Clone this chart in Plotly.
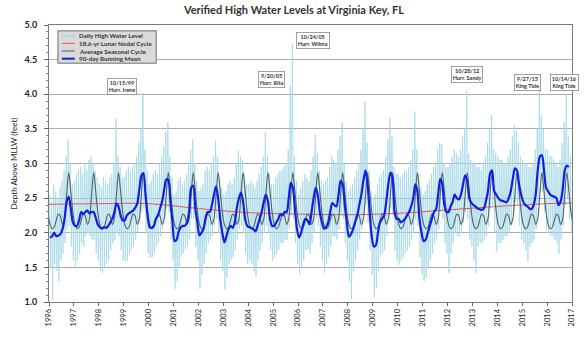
import plotly.graph_objects as go

# ---------------- DATA ----------------
years = list(range(1996, 2017))
tick_years = list(range(1996, 2018))

# 90-day running mean, sampled monthly (Jan..Dec) for each year (feet)
running_mean = [
    [1.93, 1.95, 2.00, 1.95, 1.96, 1.98, 2.05, 2.20, 2.45, 2.52, 2.35, 2.15],  # 1996
    [2.10, 2.10, 2.18, 2.30, 2.27, 2.30, 2.32, 2.28, 2.30, 2.30, 2.22, 2.12],  # 1997
    [2.08, 2.06, 2.08, 2.07, 2.10, 2.15, 2.20, 2.30, 2.42, 2.38, 2.25, 2.18],  # 1998
    [2.18, 2.25, 2.28, 2.30, 2.32, 2.36, 2.42, 2.62, 2.82, 2.86, 2.55, 2.25],  # 1999
    [2.08, 2.07, 2.10, 2.20, 2.25, 2.35, 2.45, 2.62, 2.77, 2.76, 2.45, 2.15],  # 2000
    [1.88, 1.90, 2.02, 2.08, 2.10, 2.10, 2.15, 2.30, 2.65, 2.68, 2.35, 2.15],  # 2001
    [1.96, 2.00, 2.06, 2.22, 2.30, 2.30, 2.40, 2.55, 2.67, 2.50, 2.20, 2.00],  # 2002
    [1.86, 1.95, 2.05, 2.10, 2.07, 2.15, 2.36, 2.50, 2.58, 2.45, 2.20, 2.10],  # 2003
    [2.08, 2.07, 2.05, 2.02, 2.10, 2.20, 2.30, 2.45, 2.55, 2.45, 2.20, 2.10],  # 2004
    [2.10, 2.15, 2.20, 2.27, 2.25, 2.30, 2.30, 2.50, 2.72, 2.65, 2.35, 2.05],  # 2005
    [1.93, 2.00, 2.12, 2.20, 2.18, 2.12, 2.30, 2.50, 2.65, 2.55, 2.30, 2.15],  # 2006
    [2.06, 2.08, 2.15, 2.30, 2.43, 2.40, 2.38, 2.55, 2.75, 2.70, 2.40, 2.15],  # 2007
    [1.94, 1.98, 2.05, 2.15, 2.25, 2.40, 2.55, 2.75, 2.90, 2.70, 2.30, 1.95],  # 2008
    [1.80, 1.82, 2.00, 2.15, 2.20, 2.25, 2.45, 2.70, 2.87, 2.80, 2.30, 2.20],  # 2009
    [2.20, 2.15, 2.17, 2.20, 2.25, 2.30, 2.38, 2.50, 2.70, 2.60, 2.20, 2.00],  # 2010
    [1.88, 1.90, 2.00, 2.10, 2.20, 2.30, 2.34, 2.55, 2.78, 2.70, 2.40, 2.30],  # 2011
    [2.30, 2.38, 2.45, 2.55, 2.50, 2.48, 2.55, 2.70, 2.83, 2.75, 2.50, 2.43],  # 2012
    [2.40, 2.38, 2.35, 2.34, 2.33, 2.35, 2.45, 2.60, 2.85, 2.90, 2.60, 2.55],  # 2013
    [2.50, 2.47, 2.46, 2.45, 2.44, 2.50, 2.60, 2.78, 2.93, 2.90, 2.70, 2.55],  # 2014
    [2.45, 2.40, 2.38, 2.35, 2.34, 2.40, 2.55, 2.90, 3.10, 3.12, 2.90, 2.65],  # 2015
    [2.60, 2.55, 2.53, 2.52, 2.50, 2.40, 2.45, 2.62, 2.90, 2.97, 2.95],        # 2016 (ends Nov)
]

# Daily high water level: highest and lowest daily value in each month (feet)
daily_max = [
    [2.55, 2.45, 2.70, 2.60, 2.50, 2.65, 2.75, 2.90, 3.10, 3.35, 3.00, 2.70],  # 1996
    [2.75, 2.85, 2.90, 2.95, 2.85, 3.00, 2.90, 3.05, 3.10, 3.00, 2.90, 2.80],  # 1997
    [2.70, 2.65, 2.80, 2.75, 2.70, 2.80, 2.85, 3.00, 3.65, 3.10, 2.95, 2.80],  # 1998
    [2.80, 2.90, 2.95, 2.90, 2.95, 3.00, 3.10, 3.30, 3.50, 4.02, 3.20, 2.90],  # 1999
    [2.70, 2.75, 2.85, 2.90, 2.85, 3.00, 3.10, 3.25, 3.45, 3.60, 3.10, 2.80],  # 2000
    [2.55, 2.60, 2.75, 2.80, 2.70, 2.75, 2.85, 3.00, 3.20, 3.35, 3.00, 2.75],  # 2001
    [2.60, 2.65, 2.70, 2.90, 2.95, 2.90, 3.00, 3.10, 3.33, 3.10, 2.80, 2.65],  # 2002
    [2.55, 2.60, 2.70, 2.75, 2.70, 2.80, 3.00, 3.19, 3.10, 3.05, 2.85, 2.70],  # 2003
    [2.70, 2.75, 2.70, 2.65, 2.75, 2.85, 2.95, 3.10, 3.45, 3.10, 2.85, 2.70],  # 2004
    [2.70, 2.80, 2.85, 2.90, 2.90, 2.95, 3.00, 3.20, 4.12, 4.72, 3.10, 2.75],  # 2005
    [2.55, 2.65, 2.75, 2.85, 2.80, 2.75, 2.90, 3.10, 3.42, 3.15, 2.90, 2.75],  # 2006
    [2.70, 2.75, 2.80, 2.95, 3.10, 3.05, 3.00, 3.20, 3.40, 3.59, 3.00, 2.75],  # 2007
    [2.60, 2.65, 2.70, 2.80, 2.90, 3.00, 3.20, 3.50, 3.90, 3.30, 2.90, 2.60],  # 2008
    [2.50, 2.55, 2.70, 2.80, 2.85, 2.90, 3.10, 3.35, 3.66, 3.40, 2.95, 2.85],  # 2009
    [2.85, 2.80, 2.85, 2.90, 2.90, 2.95, 3.05, 3.20, 3.75, 3.20, 2.85, 2.65],  # 2010
    [2.55, 2.60, 2.70, 2.75, 2.85, 2.95, 3.00, 3.20, 3.30, 3.28, 3.00, 2.95],  # 2011
    [2.95, 3.00, 3.10, 3.20, 3.15, 3.10, 3.20, 3.40, 3.50, 4.05, 3.15, 3.05],  # 2012
    [3.00, 3.00, 2.95, 2.95, 2.90, 3.00, 3.10, 3.30, 3.50, 3.70, 3.20, 3.15],  # 2013
    [3.10, 3.05, 3.05, 3.00, 3.00, 3.10, 3.20, 3.40, 3.55, 3.47, 3.30, 3.10],  # 2014
    [3.05, 3.00, 3.00, 2.95, 2.95, 3.00, 3.20, 3.50, 4.05, 3.70, 3.50, 3.20],  # 2015
    [3.20, 3.10, 3.10, 3.05, 3.00, 2.95, 3.05, 3.30, 3.60, 4.00, 3.40, 3.10],  # 2016
]
daily_min = [
    [1.50, 1.03, 1.55, 1.45, 1.30, 1.60, 1.70, 1.85, 2.05, 2.10, 1.80, 1.60],  # 1996
    [1.52, 1.60, 1.70, 1.85, 1.80, 1.95, 2.00, 1.95, 1.90, 1.90, 1.70, 1.60],  # 1997
    [1.45, 1.42, 1.50, 1.55, 1.60, 1.75, 1.85, 1.90, 2.00, 1.95, 1.75, 1.60],  # 1998
    [1.60, 1.59, 1.70, 1.75, 1.80, 1.90, 2.00, 2.15, 2.30, 2.35, 2.00, 1.70],  # 1999
    [1.64, 1.65, 1.70, 1.80, 1.85, 1.95, 2.05, 2.20, 2.35, 2.30, 1.90, 1.60],  # 2000
    [1.19, 1.30, 1.50, 1.65, 1.70, 1.75, 1.80, 1.90, 2.20, 2.20, 1.80, 1.60],  # 2001
    [1.19, 1.40, 1.55, 1.70, 1.85, 1.90, 1.95, 2.10, 2.20, 2.00, 1.60, 1.45],  # 2002
    [1.18, 1.35, 1.55, 1.60, 1.65, 1.75, 1.90, 2.05, 2.10, 2.00, 1.70, 1.55],  # 2003
    [1.60, 1.55, 1.45, 1.37, 1.60, 1.75, 1.85, 2.00, 2.10, 2.00, 1.75, 1.60],  # 2004
    [1.64, 1.70, 1.75, 1.85, 1.85, 1.90, 1.90, 2.05, 2.25, 2.20, 1.85, 1.55],  # 2005
    [1.40, 1.50, 1.60, 1.75, 1.75, 1.70, 1.85, 2.00, 2.20, 2.10, 1.80, 1.60],  # 2006
    [1.42, 1.55, 1.65, 1.80, 1.95, 1.95, 1.90, 2.05, 2.25, 2.20, 1.85, 1.60],  # 2007
    [1.30, 1.04, 1.45, 1.60, 1.75, 1.90, 2.05, 2.25, 2.40, 2.15, 1.75, 1.40],  # 2008
    [1.07, 1.20, 1.45, 1.65, 1.70, 1.75, 1.95, 2.20, 2.35, 2.25, 1.75, 1.60],  # 2009
    [1.54, 1.60, 1.65, 1.70, 1.75, 1.80, 1.90, 2.00, 2.20, 2.10, 1.65, 1.40],  # 2010
    [1.30, 1.35, 1.50, 1.60, 1.70, 1.85, 1.90, 2.05, 2.30, 2.20, 1.85, 1.70],  # 2011
    [1.42, 1.70, 1.85, 2.00, 1.95, 1.95, 2.00, 2.15, 2.30, 2.20, 1.90, 1.80],  # 2012
    [1.60, 1.42, 1.80, 1.85, 1.85, 1.90, 1.95, 2.10, 2.35, 2.40, 2.00, 1.73],  # 2013
    [1.85, 1.85, 1.90, 1.95, 1.95, 2.00, 2.10, 2.30, 2.45, 2.40, 2.10, 1.90],  # 2014
    [1.85, 1.75, 1.59, 1.80, 1.85, 1.90, 2.05, 2.40, 2.60, 2.60, 2.30, 2.05],  # 2015
    [2.00, 1.95, 1.95, 1.90, 1.85, 1.70, 1.90, 2.10, 2.40, 2.50, 2.20, 2.00],  # 2016
]

# Average seasonal cycle, monthly (Jan..Dec)
seasonal_cycle = [2.12, 2.06, 2.08, 2.18, 2.27, 2.24, 2.12, 2.20, 2.55, 2.87, 2.60, 2.30]

# 18.6-yr lunar nodal cycle, read at these dates
nodal_years = [1996, 1998, 2000, 2002, 2004, 2006, 2008, 2010, 2012, 2014, 2016, 2017]
nodal_values = [2.41, 2.42, 2.42, 2.35, 2.29, 2.27, 2.26, 2.28, 2.33, 2.38, 2.42, 2.43]

# Labelled events
event_labels = ["10/15/99<br>Hurr. Irene", "9/20/05<br>Hurr. Rita", "10/24/05<br>Hurr. Wilma",
                "10/28/12<br>Hurr. Sandy", "9/27/15<br>King Tide", "10/14/16<br>King Tide"]

# ---------------- LAYOUT CONSTANTS ----------------
label_pos = [(1998.95, 4.11), (2004.92, 4.22), (2006.6, 4.77),
             (2012.77, 4.28), (2015.2, 4.17), (2016.68, 4.17)]

FONT = "Lato"
C_DAILY = "#a6d8e7"
C_RED = "#e05a5a"
C_GRAY = "#4f6464"
C_BLUE = "#1020e0"

# ---------------- BUILD SERIES ----------------
dx, dy = [], []
for yi, yr in enumerate(years):
    for m in range(12):
        dx.append(yr + (m + 0.25) / 12)
        dy.append(daily_max[yi][m])
        dx.append(yr + (m + 0.75) / 12)
        dy.append(daily_min[yi][m])

mx, my = [], []
for yi, yr in enumerate(years):
    for m, v in enumerate(running_mean[yi]):
        mx.append(yr + (m + 0.5) / 12)
        my.append(v)

sx, sy = [1995 + 11.5 / 12], [seasonal_cycle[11]]
for yr in years:
    for m in range(12):
        sx.append(yr + (m + 0.5) / 12)
        sy.append(seasonal_cycle[m])
sx.append(2017 + 0.5 / 12)
sy.append(seasonal_cycle[0])

fig = go.Figure()
fig.add_trace(go.Scatter(x=dx, y=dy, mode="lines", line=dict(color=C_DAILY, width=0.8),
                         name="Daily High Water Level", hoverinfo="skip"))
fig.add_trace(go.Scatter(x=nodal_years, y=nodal_values, mode="lines",
                         line=dict(color=C_RED, width=1, shape="spline"),
                         name="18.6-yr Lunar Nodal Cycle"))
fig.add_trace(go.Scatter(x=sx, y=sy, mode="lines",
                         line=dict(color=C_GRAY, width=1.1, shape="spline", smoothing=0.9),
                         name="Average Seasonal Cycle"))
fig.add_trace(go.Scatter(x=mx, y=my, mode="lines",
                         line=dict(color=C_BLUE, width=2.2, shape="spline", smoothing=0.8),
                         name="90-day Running Mean"))

# ---------------- MANUAL LEGEND ----------------
W0, W1, H0, H1 = 49, 576, 25, 308
def px(x):
    return (x - W0) / (W1 - W0)
def py(y):
    return (H1 - y) / (H1 - H0)

shapes = [dict(type="rect", xref="paper", yref="paper", x0=px(58), x1=px(157), y0=py(64), y1=py(31),
               fillcolor="#dadada", line=dict(color="#707070", width=1), layer="above")]
annotations = []
leg_items = [("Daily High Water Level", C_DAILY, 1.5), ("18.6-yr Lunar Nodal Cycle", C_RED, 1),
             ("Average Seasonal Cycle", C_GRAY, 1), ("90-day Running Mean", C_BLUE, 2)]
for i, (txt, col, w) in enumerate(leg_items):
    yy = 36 + i * 7.8
    shapes.append(dict(type="line", xref="paper", yref="paper", x0=px(62), x1=px(75),
                       y0=py(yy), y1=py(yy), line=dict(color=col, width=w), layer="above"))
    annotations.append(dict(xref="paper", yref="paper", x=px(77), y=py(yy), text="<b>%s</b>" % txt,
                            showarrow=False, xanchor="left", yanchor="middle",
                            font=dict(family=FONT, size=6.3, color="#333333")))

for txt, (lx, ly) in zip(event_labels, label_pos):
    a, b = txt.split("<br>")
    annotations.append(dict(x=lx, y=ly, xref="x", yref="y", text="<b>%s<br>%s</b>" % (a, b),
                            showarrow=False, align="center",
                            font=dict(family=FONT, size=5.5, color="#333333"),
                            bgcolor="white", bordercolor="#8a8a8a", borderwidth=0.8, borderpad=1))

fig.update_layout(
    width=588, height=338,
    margin=dict(l=W0, r=588 - W1, t=H0, b=338 - H1),
    paper_bgcolor="white", plot_bgcolor="white",
    showlegend=False,
    title=dict(text="<b>Verified High Water Levels at Virginia Key, FL</b>", x=0.5, xanchor="center",
               y=1 - 10 / 338, yanchor="middle", font=dict(family=FONT, size=11, color="#333333")),
    shapes=shapes, annotations=annotations,
    font=dict(family=FONT),
)
fig.update_xaxes(range=[1996, 2017], tickmode="array", tickvals=tick_years,
                 ticktext=[str(y) for y in tick_years], tickangle=-90,
                 tickfont=dict(family=FONT, size=7.5, color="#222222"),
                 ticks="outside", ticklen=3, tickcolor="#666666",
                 showgrid=False, zeroline=False, showline=True, linecolor="#7a7a7a", linewidth=1, mirror=True)
fig.update_yaxes(range=[1.0, 5.0], tickmode="linear", tick0=1.0, dtick=0.5, tickformat=".1f",
                 tickfont=dict(family=FONT, size=9, color="#222222"),
                 ticks="outside", ticklen=4, tickcolor="#666666", ticklabelstandoff=5,
                 minor=dict(dtick=0.1, ticks="outside", ticklen=2.5, tickcolor="#888888", showgrid=False),
                 showgrid=True, gridcolor="#ababab", gridwidth=1, zeroline=False,
                 showline=True, linecolor="#7a7a7a", linewidth=1, mirror=True,
                 title=dict(text="Depth Above MLLW (feet)", standoff=5,
                            font=dict(family=FONT, size=8, color="#222222")))
fig.update_yaxes(tickprefix="<b>", ticksuffix="</b>")

fig.write_html("out.html")
